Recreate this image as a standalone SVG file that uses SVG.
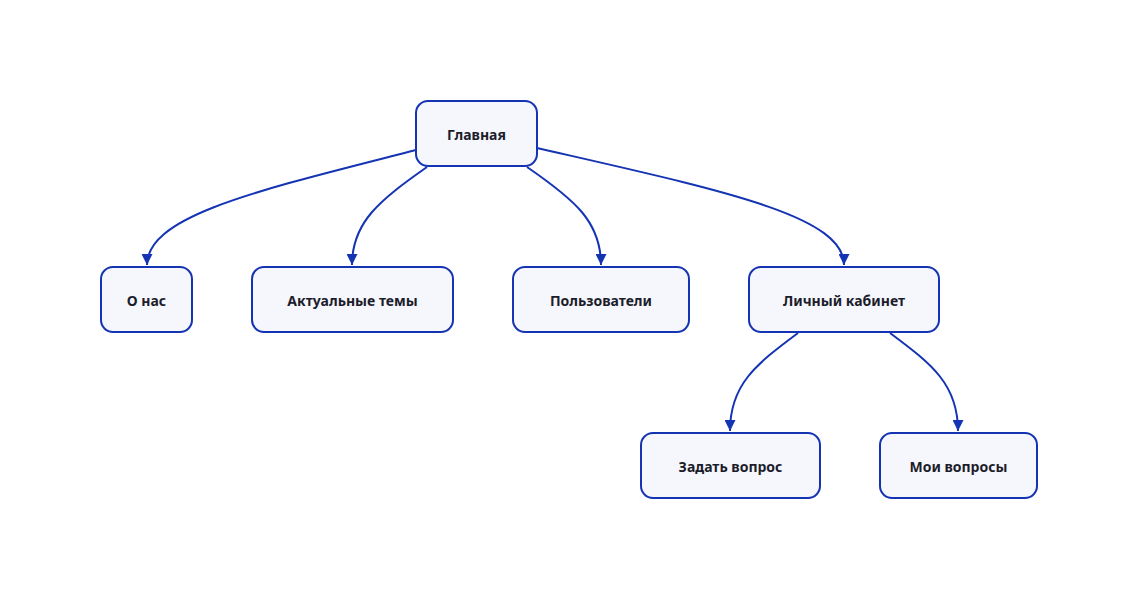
<svg xmlns="http://www.w3.org/2000/svg" width="1138" height="600" viewBox="0 0 1138 600">
<style>
.n rect{fill:#f6f7fd;stroke:#1534b3;stroke-width:2}
.n text{font-family:"Noto Sans","Open Sans",sans-serif;font-size:14px;font-weight:700;fill:#1c1d2b;text-anchor:middle;dominant-baseline:central}
.e path{fill:none;stroke:#1534b3;stroke-width:2;marker-end:url(#a)}
</style>
<defs>
<marker id="a" viewBox="0 0 10 10" refX="10" refY="5" markerWidth="5.5" markerHeight="5.5" markerUnits="strokeWidth" orient="auto">
<path d="M0,0 L10,5 L0,10 z" fill="#1534b3"/>
</marker>
</defs>
<rect width="1138" height="600" fill="#ffffff"/>
<g class="e">
<path d="M416,150 C 260,190 147,215 147,265"/>
<path d="M427,167 C 380,200 352,222 352,265"/>
<path d="M527,167 C 575,200 601,222 601,265"/>
<path d="M537,148 C 720,190 844,215 844,265"/>
<path d="M798,333 C 755,365 730,385 730,431"/>
<path d="M890,333 C 933,365 958,385 958,431"/>
</g>
<g id="glavnaya" class="n"><rect x="416" y="101" width="121" height="65" rx="12"/><text x="476.5" y="134">Главная</text></g>
<g id="onas" class="n"><rect x="101" y="267" width="91" height="65" rx="12"/><text x="146.5" y="300">О нас</text></g>
<g id="aktualnye" class="n"><rect x="252" y="267" width="201" height="65" rx="12"/><text x="352.5" y="300">Актуальные темы</text></g>
<g id="polzovateli" class="n"><rect x="513" y="267" width="176" height="65" rx="12"/><text x="601" y="300">Пользователи</text></g>
<g id="kabinet" class="n"><rect x="749" y="267" width="190" height="65" rx="12"/><text x="844" y="300">Личный кабинет</text></g>
<g id="zadat" class="n"><rect x="641" y="433" width="179" height="65" rx="12"/><text x="730.5" y="466">Задать вопрос</text></g>
<g id="moi" class="n"><rect x="880" y="433" width="157" height="65" rx="12"/><text x="958.5" y="466">Мои вопросы</text></g>
</svg>
